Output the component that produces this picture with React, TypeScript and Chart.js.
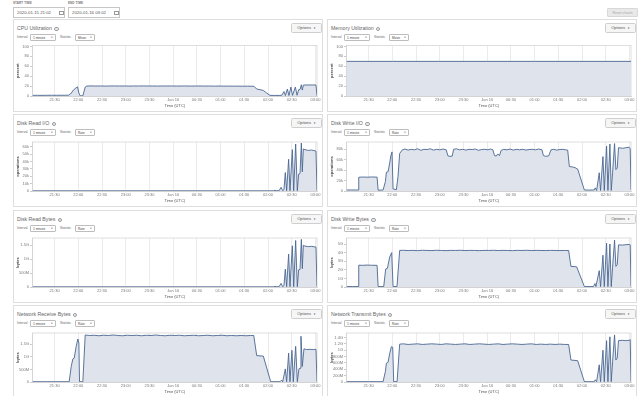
import React, { useEffect, useRef } from "react";
import { Chart, registerables } from "chart.js";
Chart.register(...registerables);

// ---------- data ----------
const startTime = "2020-01-15 21:02";
const endTime = "2020-01-16 03:02";
// x values are minutes after 2020-01-15 21:00 UTC
const xMin = 2;
const xMax = 362;
const xTickValues = [30, 60, 90, 120, 150, 180, 210, 240, 270, 300, 330, 360];
const xTickLabels = ["21:30", "22:00", "22:30", "23:00", "23:30", "Jan 16", "00:30", "01:00", "01:30", "02:00", "02:30", "03:00"];

const percentTicks = [0, 20, 40, 60, 80, 100];
const percentLabels = ["0", "20", "40", "60", "80", "100"];
const diskReadIoTicks = [0, 10, 20, 30, 40, 50, 60];
const diskReadIoLabels = ["0", "10k", "20k", "30k", "40k", "50k", "60k"];
const diskWriteIoTicks = [0, 20, 40, 60, 80];
const diskWriteIoLabels = ["0", "20k", "40k", "60k", "80k"];
const halfGigTicks = [0, 0.5, 1, 1.5];
const halfGigLabels = ["0", "500M", "1G", "1.5G"];
const gigTicks = [0, 1, 2, 3, 4, 5];
const gigLabels = ["0", "1G", "2G", "3G", "4G", "5G"];
const transmitTicks = [0, 0.2, 0.4, 0.6, 0.8, 1, 1.2, 1.4];
const transmitLabels = ["0", "200M", "400M", "600M", "800M", "1G", "1.2G", "1.4G"];

// CPU utilization (percent)
const cpuSeries = [
  [2, 1.3], [8, 1.4], [14, 1.3], [20, 1.4], [26, 1.5], [32, 1.4], [38, 1.5], [44, 1.5], [47.6, 1.6],
  [50, 4], [52, 8], [54, 12.5], [56.4, 15.5], [59, 18.5], [60.7, 6], [62.3, 0.4], [65.7, 0.4], [68.7, 18], [70.8, 20.1],
  [76, 20.3], [82, 20.1], [88, 20.2], [94, 20.0], [100, 20.2], [106, 20.3], [112, 20.1], [118, 20.2], [124, 20.0],
  [130, 20.2], [136, 20.1], [142, 20.3], [148, 20.1], [154, 20.2], [160, 20.0], [166, 20.2], [172, 20.1], [178, 20.2],
  [184, 20.0], [190, 20.1], [196, 20.2], [202, 20.0], [208, 20.1], [214, 20.2], [220, 20.0], [226, 20.1], [232, 19.9],
  [238, 20.1], [244, 19.9], [250, 20.0], [256, 19.8], [262, 19.9], [268, 19.7], [274, 19.8], [280, 19.6], [282.3, 19.5],
  [285.7, 14], [290, 12.7], [294, 11.3], [298.3, 6], [302.5, 1.3], [308, 1.1], [314, 1.2], [317.3, 1.3],
  [320.2, 9], [322, 1], [324.5, 14], [326.5, 1], [329, 18], [331, 1.2], [334.6, 18], [336.8, 1.5], [338.8, 12.7],
  [340.5, 13], [342.2, 22.7], [343.4, 12], [344.7, 22], [348, 22.2], [352, 22.1], [356, 22.3], [360.7, 22.2], [362, 0.5],
];

// Memory utilization (percent)
const memorySeries = [
  [2, 69.8], [60, 69.8], [120, 69.8], [180, 69.8], [240, 69.8], [300, 69.8], [362, 69.8],
];

// Disk read I/O (thousand operations)
const diskReadIoSeries = [
  [2, 0.2], [60, 0.2], [120, 0.2], [180, 0.2], [240, 0.2], [306.8, 0.2], [308.9, 1], [311, 0.4], [314, 0.3],
  [316.5, 5], [318.6, 0.3], [320.2, 2], [321.9, 25], [323.6, 0.3], [326.1, 43], [327.8, 0.3], [330.8, 56],
  [332.5, 0.3], [335, 63.6], [337.1, 0.3], [338.8, 23], [340.5, 23.5], [342.2, 65], [343.4, 26], [344.7, 57],
  [346.8, 56], [351, 55], [355.2, 55.5], [359.4, 54.5], [360.7, 54], [362, 0.5],
];

// Disk write I/O (thousand operations)
const diskWriteIoSeries = [
  [2, 1.9], [8, 2], [14, 1.9], [16.7, 2], [17.5, 26.3], [22, 26.8], [28, 26.5], [34, 26.9], [40.7, 26.6], [42, 1.5],
  [48.3, 2], [51.2, 18], [52.5, 36], [54.6, 37], [56.7, 54], [58, 67], [59.6, 75], [60.9, 4], [65.1, 2.5], [67.2, 28],
  [69.3, 72], [72.7, 79], [76, 80.5], [80, 78.5], [84, 80], [88, 79], [92, 81], [96, 78], [100, 80], [104, 79.5],
  [108, 81], [112, 78.5], [116, 80], [120, 79], [124, 80.5], [128.2, 79], [130.3, 67.5], [133, 66.5], [135.8, 67],
  [137.5, 80], [141, 81], [145, 79], [149, 80], [153, 78.5], [157, 80], [161, 79.5], [165, 80.5], [169, 78],
  [173, 79.5], [177, 80], [181, 79], [184, 80.5], [187.2, 79], [189.3, 68], [191.4, 67], [193.5, 71], [195.6, 68],
  [197.7, 78], [201, 80], [205, 79], [209, 80.5], [213, 78.5], [217, 80], [221, 79], [225, 80], [229, 78.5],
  [233, 79.5], [237, 80], [241, 79], [245, 80.5], [249.4, 79], [251.1, 68], [254, 66.5], [257.9, 67.5], [260.8, 79],
  [264, 80], [268, 78.5], [272, 79.5], [276, 80], [279, 79], [281.9, 78.5], [284, 47], [288.2, 46], [291, 45],
  [294.5, 42], [303, 2], [308, 1.8], [315.5, 2], [316.8, 6], [318.5, 1], [321.8, 35], [323.5, 1], [326.5, 66],
  [328.2, 1], [331.1, 86], [332.8, 1], [335.3, 90], [337, 1], [338.7, 35], [341.2, 91], [342.9, 41], [344.6, 44],
  [346.2, 83], [351.3, 82], [355.5, 83], [359.7, 84], [361, 81], [362, 2],
];

// Disk read bytes (GB)
const diskReadBytesSeries = [
  [2, 0.005], [120, 0.005], [240, 0.005], [306.8, 0.005], [308.9, 0.02], [311, 0.01], [314, 0.01], [316.5, 0.13],
  [318.6, 0.01], [320.2, 0.05], [321.9, 0.64], [323.6, 0.01], [326.1, 1.18], [327.8, 0.01], [330.8, 1.48],
  [332.5, 0.01], [335, 1.67], [337.1, 0.01], [338.8, 0.62], [340.5, 0.63], [342.2, 1.71], [343.4, 0.66],
  [344.7, 1.5], [346.8, 1.47], [351, 1.45], [355.2, 1.46], [359.4, 1.44], [360.7, 1.43], [362, 0.01],
];

// Disk write bytes (GB)
const diskWriteBytesSeries = [
  [2, 0.05], [10, 0.05], [16.7, 0.05], [17.5, 2.54], [22, 2.52], [28, 2.55], [34, 2.53], [40.7, 2.52], [42, 0.05],
  [49.1, 0.05], [51.6, 2.1], [53.7, 2.15], [56.7, 3.5], [59.2, 4.0], [60.9, 0.05], [65.9, 0.05], [69.3, 4.25],
  [74, 4.27], [80, 4.24], [86, 4.26], [92, 4.23], [98, 4.27], [104, 4.25], [110, 4.24], [116, 4.27], [122, 4.25],
  [128, 4.23], [134, 4.26], [140, 4.25], [146, 4.27], [152, 4.24], [158, 4.26], [164, 4.25], [170, 4.23],
  [176, 4.26], [182, 4.25], [188, 4.27], [194, 4.24], [200, 4.26], [206, 4.25], [212, 4.23], [218, 4.26],
  [224, 4.25], [230, 4.27], [236, 4.24], [242, 4.26], [248, 4.25], [254, 4.24], [260, 4.26], [266, 4.25],
  [272, 4.24], [278, 4.25], [283.1, 4.24], [286, 2.4], [293.2, 2.35], [303, 0.05], [314.3, 0.05], [316.4, 0.4],
  [317.6, 0.05], [321.8, 1.9], [323.5, 0.05], [326.5, 3.7], [328.2, 0.05], [331.1, 5.1], [332.8, 0.05],
  [335.3, 5.0], [337, 0.05], [338.7, 2.3], [341.2, 5.45], [342.9, 2.4], [344.6, 2.6], [346.2, 4.9], [351, 4.88],
  [355.5, 4.92], [359.7, 4.95], [361, 4.9], [362, 0.05],
];

// Network receive bytes (GB)
const netReceiveSeries = [
  [2, 0.01], [20, 0.01], [48.4, 0.01], [51, 0.62], [53.1, 0.92], [54.8, 0.95], [57.3, 1.42], [59.4, 1.71],
  [60.7, 1.55], [61.5, 0.01], [65.7, 0.01], [68.7, 1.87], [74, 1.85], [80, 1.86], [86, 1.84], [92, 1.86],
  [98, 1.85], [104, 1.87], [110, 1.85], [116, 1.84], [122, 1.86], [128, 1.85], [134, 1.86], [140, 1.84],
  [146, 1.86], [152, 1.85], [158, 1.87], [164, 1.85], [170, 1.84], [176, 1.86], [182, 1.85], [188, 1.86],
  [194, 1.84], [200, 1.85], [206, 1.86], [212, 1.84], [218, 1.85], [224, 1.86], [230, 1.84], [236, 1.85],
  [242, 1.86], [248, 1.84], [254, 1.85], [260, 1.84], [266, 1.85], [272, 1.84], [278, 1.85], [282, 1.85],
  [285.7, 1.05], [294.1, 1.03], [303.4, 0.01], [315.2, 0.01], [317.3, 0.08], [318.6, 0.01], [321.9, 0.52],
  [323.6, 0.01], [326.1, 1.15], [327.8, 0.01], [330.3, 1.26], [332, 0.01], [335, 1.42], [337.1, 0.01],
  [339.2, 0.53], [340.5, 0.55], [341.7, 1.82], [343.4, 0.62], [345.5, 1.32], [348.9, 1.29], [353.1, 1.3],
  [357.3, 1.29], [360.7, 1.3], [362, 0.01],
];

// Network transmit bytes (GB)
const netTransmitSeries = [
  [2, 0.01], [30, 0.01], [48.3, 0.01], [51.2, 0.33], [52.5, 0.59], [54.6, 0.62], [56.7, 0.9], [58.8, 1.11],
  [60.5, 1.09], [61.7, 0.01], [66, 0.01], [69.3, 1.19], [74, 1.2], [80, 1.18], [86, 1.19], [92, 1.2], [98, 1.18],
  [104, 1.19], [110, 1.2], [116, 1.19], [122, 1.18], [128, 1.2], [134, 1.19], [140, 1.18], [146, 1.19],
  [152, 1.2], [158, 1.18], [164, 1.19], [170, 1.2], [176, 1.19], [182, 1.18], [188, 1.19], [194, 1.2],
  [200, 1.18], [206, 1.19], [212, 1.2], [218, 1.19], [224, 1.18], [230, 1.19], [236, 1.2], [242, 1.18],
  [248, 1.19], [254, 1.18], [260, 1.19], [266, 1.18], [272, 1.19], [278, 1.18], [283.1, 1.18], [286, 0.69],
  [294.5, 0.67], [303, 0.01], [315.5, 0.01], [316.8, 0.07], [318.5, 0.01], [321.8, 0.54], [323.5, 0.01],
  [326.5, 1.0], [328.2, 0.01], [331.1, 1.3], [332.8, 0.01], [335.3, 1.42], [337, 0.01], [338.7, 0.64],
  [341.2, 1.48], [342.9, 0.69], [344.6, 0.75], [346.2, 1.3], [351, 1.31], [355.5, 1.3], [359.7, 1.31],
  [361, 1.33], [362, 0.01],
];

// ---------- styling ----------
const FONT = "'Liberation Sans', Arial, Helvetica, sans-serif";
const LINE = "#4a6692";
const FILL = "#dfe4ec";

type Cfg = {
  series: number[][];
  yMax: number;
  yTicks: number[];
  yLabels: string[];
  yTitle: string;
  padTop: number;
};

const boxPlugin = {
  id: "plotBox",
  beforeDatasetsDraw(chart: any) {
    const { ctx, chartArea } = chart;
    ctx.save();
    ctx.strokeStyle = "#d6d6d6";
    ctx.lineWidth = 0.8;
    ctx.strokeRect(chartArea.left, chartArea.top, chartArea.right - chartArea.left, chartArea.bottom - chartArea.top);
    ctx.restore();
  },
};

function MetricChart({ cfg }: { cfg: Cfg }) {
  const ref = useRef<HTMLCanvasElement>(null);
  useEffect(() => {
    const chart = new Chart(ref.current as HTMLCanvasElement, {
      type: "line",
      data: {
        datasets: [
          {
            data: cfg.series.map(([x, y]) => ({ x, y })),
            borderColor: LINE,
            backgroundColor: FILL,
            borderWidth: 0.9,
            pointRadius: 0,
            fill: "origin",
            tension: 0,
          },
        ],
      },
      options: {
        animation: false,
        responsive: false,
        devicePixelRatio: 1,
        layout: { padding: { top: cfg.padTop, right: 4, left: 0, bottom: 0 } },
        plugins: { legend: { display: false }, tooltip: { enabled: false } },
        scales: {
          x: {
            type: "linear",
            min: xMin,
            max: xMax,
            afterBuildTicks: (s: any) => {
              s.ticks = xTickValues.map((v) => ({ value: v }));
            },
            afterFit: (s: any) => {
              s.height = 15;
            },
            ticks: {
              autoSkip: false,
              maxRotation: 0,
              padding: 0,
              font: { size: 4, family: FONT },
              color: "#777",
              callback: (v: any) => xTickLabels[xTickValues.indexOf(Number(v))],
            },
            grid: { color: "#e6e6e6", lineWidth: 0.8, tickLength: 1.5, drawTicks: true },
            border: { display: true, color: "#d0d0d0" },
            title: {
              display: true,
              text: "Time (UTC)",
              font: { size: 4, family: FONT },
              color: "#555",
              padding: { top: 0, bottom: 2.5 },
            },
          },
          y: {
            min: 0,
            max: cfg.yMax,
            afterBuildTicks: (s: any) => {
              s.ticks = cfg.yTicks.map((v) => ({ value: v }));
            },
            afterFit: (s: any) => {
              s.width = 18.5;
            },
            ticks: {
              autoSkip: false,
              padding: 1,
              font: { size: 4, family: FONT },
              color: "#777",
              callback: (v: any) => cfg.yLabels[cfg.yTicks.indexOf(Number(v))],
            },
            grid: { drawOnChartArea: false, tickLength: 2.5, color: "#aaa", lineWidth: 0.6 },
            border: { display: true, color: "#d0d0d0" },
            title: {
              display: true,
              text: cfg.yTitle,
              font: { size: 4, family: FONT, weight: "bold" },
              color: "#444",
              padding: { top: 1.5, bottom: 0 },
            },
          },
        },
      },
      plugins: [boxPlugin],
    } as any);
    return () => chart.destroy();
  }, []);
  return <canvas ref={ref} width={307} height={69} style={{ display: "block" }} />;
}

const panels = [
  { title: "CPU Utilization", stat: "Mean", cfg: { series: cpuSeries, yMax: 102, yTicks: percentTicks, yLabels: percentLabels, yTitle: "percent", padTop: 3 } },
  { title: "Memory Utilization", stat: "Mean", cfg: { series: memorySeries, yMax: 102, yTicks: percentTicks, yLabels: percentLabels, yTitle: "percent", padTop: 3 } },
  { title: "Disk Read I/O", stat: "Rate", cfg: { series: diskReadIoSeries, yMax: 66.4, yTicks: diskReadIoTicks, yLabels: diskReadIoLabels, yTitle: "operations", padTop: 5 } },
  { title: "Disk Write I/O", stat: "Rate", cfg: { series: diskWriteIoSeries, yMax: 94, yTicks: diskWriteIoTicks, yLabels: diskWriteIoLabels, yTitle: "operations", padTop: 5 } },
  { title: "Disk Read Bytes", stat: "Rate", cfg: { series: diskReadBytesSeries, yMax: 1.76, yTicks: halfGigTicks, yLabels: halfGigLabels, yTitle: "bytes", padTop: 5 } },
  { title: "Disk Write Bytes", stat: "Rate", cfg: { series: diskWriteBytesSeries, yMax: 5.7, yTicks: gigTicks, yLabels: gigLabels, yTitle: "bytes", padTop: 5 } },
  { title: "Network Receive Bytes", stat: "Rate", cfg: { series: netReceiveSeries, yMax: 1.95, yTicks: halfGigTicks, yLabels: halfGigLabels, yTitle: "bytes", padTop: 5 } },
  { title: "Network Transmit Bytes", stat: "Rate", cfg: { series: netTransmitSeries, yMax: 1.54, yTicks: transmitTicks, yLabels: transmitLabels, yTitle: "bytes", padTop: 5 } },
];

const panelLefts = [13, 327];
const panelTops = [19, 114, 210, 305];

function SelectBox({ left, width, text }: { left: number; width: number; text: string }) {
  return (
    <div
      style={{
        position: "absolute",
        left,
        top: 0,
        width,
        height: 7,
        boxSizing: "border-box",
        border: "0.6px solid #bdbdbd",
        borderRadius: 1,
        background: "#fff",
        fontSize: 3.2,
        lineHeight: "6px",
        color: "#444",
        paddingLeft: 2,
      }}
    >
      {text}
      <span style={{ position: "absolute", right: 2, top: 0, fontSize: 2.4, color: "#333" }}>▼</span>
    </div>
  );
}

function Panel({ title, stat, cfg, left, top }: any) {
  return (
    <div
      style={{
        position: "absolute",
        left,
        top,
        width: 310,
        height: 93,
        boxSizing: "border-box",
        border: "1px solid #dedede",
        background: "#fff",
      }}
    >
      <div style={{ position: "absolute", left: 3, top: 4.5, fontSize: 5.2, lineHeight: "6px", color: "#666", whiteSpace: "nowrap" }}>
        {title}
        <span
          style={{
            display: "inline-block",
            position: "relative",
            top: 0.3,
            marginLeft: 2.5,
            width: 4.2,
            height: 4.2,
            boxSizing: "border-box",
            border: "0.5px solid #999",
            borderRadius: "50%",
            fontSize: 2.8,
            lineHeight: "3.4px",
            textAlign: "center",
            color: "#999",
          }}
        >
          i
        </span>
      </div>
      <div
        style={{
          position: "absolute",
          left: 277,
          top: 2.5,
          width: 31,
          height: 10,
          boxSizing: "border-box",
          border: "0.8px solid #cfcfcf",
          borderRadius: 1.5,
          background: "#f6f6f6",
          fontSize: 4,
          lineHeight: "8.5px",
          color: "#555",
          textAlign: "center",
        }}
      >
        Options <span style={{ fontSize: 2.6, marginLeft: 1, color: "#444" }}>▼</span>
      </div>
      <div style={{ position: "absolute", left: 0, top: 13.5, width: 120, height: 7, fontSize: 3.2, color: "#666" }}>
        <span style={{ position: "absolute", left: 3, top: 0, lineHeight: "7px" }}>Interval</span>
        <SelectBox left={16} width={26} text="1 minute" />
        <span style={{ position: "absolute", left: 46, top: 0, lineHeight: "7px" }}>Statistic</span>
        <SelectBox left={61} width={20} text={stat} />
      </div>
      <div style={{ position: "absolute", left: 0, top: 22 }}>
        <MetricChart cfg={cfg} />
      </div>
    </div>
  );
}

function DateInput({ left, label, value }: { left: number; label: string; value: string }) {
  return (
    <>
      <div style={{ position: "absolute", left, top: 1, fontSize: 3, fontWeight: "bold", color: "#777", letterSpacing: 0.1 }}>{label}</div>
      <div
        style={{
          position: "absolute",
          left,
          top: 7,
          width: 52,
          height: 11,
          boxSizing: "border-box",
          border: "0.7px solid #c6c6c6",
          background: "#fff",
          fontSize: 4.3,
          lineHeight: "10px",
          color: "#555",
          paddingLeft: 3,
        }}
      >
        {value}
        <span
          style={{
            position: "absolute",
            left: 44.5,
            top: 2.8,
            width: 5,
            height: 4.5,
            boxSizing: "border-box",
            border: "0.5px solid #999",
          }}
        />
      </div>
    </>
  );
}

export default function App() {
  return (
    <div
      style={{
        position: "absolute",
        left: 0,
        top: 0,
        width: 640,
        height: 396,
        overflow: "hidden",
        background: "#fff",
        fontFamily: FONT,
      }}
    >
      <DateInput left={13} label="START TIME" value={startTime} />
      <DateInput left={68} label="END TIME" value={endTime} />
      <div
        style={{
          position: "absolute",
          left: 607,
          top: 8,
          width: 31,
          height: 9,
          boxSizing: "border-box",
          border: "0.6px solid #d8d8d8",
          borderRadius: 1,
          background: "#e9e9e9",
          fontSize: 3.6,
          lineHeight: "8px",
          textAlign: "center",
          color: "#a8a8a8",
        }}
      >
        Reset charts
      </div>
      {panels.map((p, i) => (
        <Panel key={p.title} title={p.title} stat={p.stat} cfg={p.cfg} left={panelLefts[i % 2]} top={panelTops[Math.floor(i / 2)]} />
      ))}
    </div>
  );
}
